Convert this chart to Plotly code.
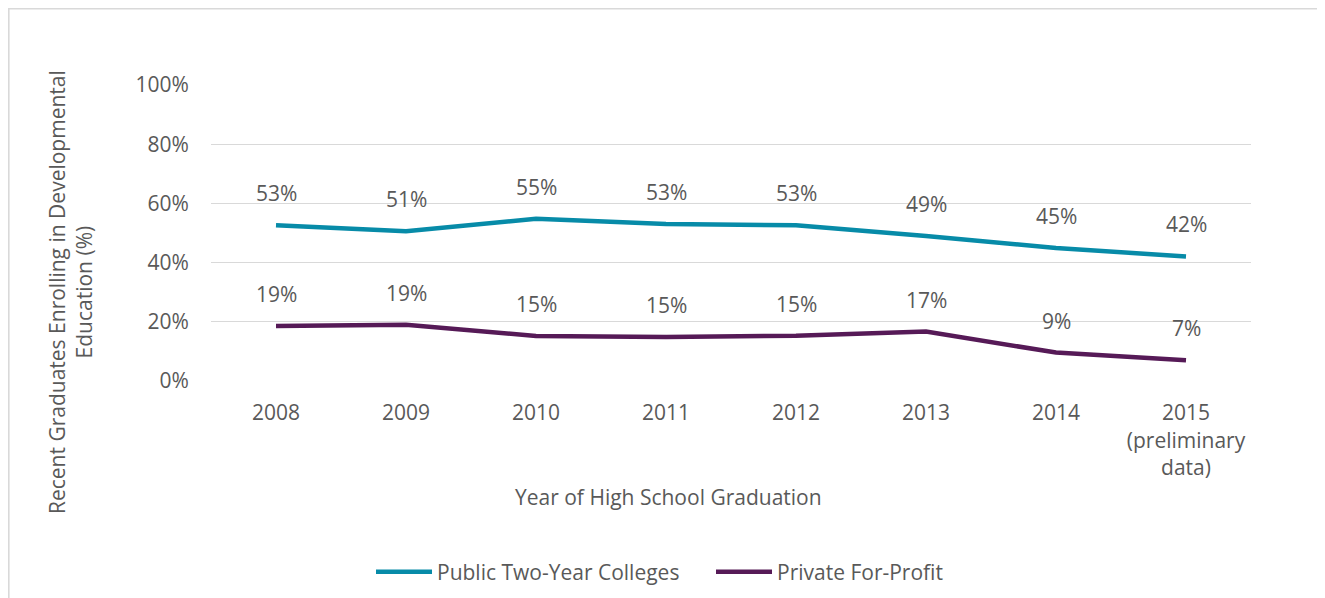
import plotly.graph_objects as go

years = ["2008", "2009", "2010", "2011", "2012", "2013", "2014", "2015"]
year_ticktext = ["2008", "2009", "2010", "2011", "2012", "2013", "2014", "2015<br>(preliminary<br>data)"]
public_two_year = [0.526, 0.506, 0.548, 0.530, 0.526, 0.490, 0.449, 0.421]
private_for_profit = [0.186, 0.190, 0.152, 0.149, 0.153, 0.167, 0.096, 0.070]
public_labels = ["53%", "51%", "55%", "53%", "53%", "49%", "45%", "42%"]
private_labels = ["19%", "19%", "15%", "15%", "15%", "17%", "9%", "7%"]

FONT = "Open Sans"
FS = 21
GRAY = "#595959"
TEAL = "#078BA8"
PURPLE = "#561A57"

# page offset (default body margin) and target plot area in screen pixels
OFF = 8
FIG_W, FIG_H = 1325 - OFF, 598 - OFF
L, R, T, B = 211, 1251, 85, 381
W, H = R - L, B - T


def px(xp):
    return (xp - L) / W


def py(yp):
    return (B - yp) / H


fig = go.Figure()
fig.add_trace(go.Scatter(x=list(range(len(years))), y=public_two_year, mode="lines",
                         name="Public Two-Year Colleges",
                         line=dict(color=TEAL, width=4.5), hoverinfo="skip"))
fig.add_trace(go.Scatter(x=list(range(len(years))), y=private_for_profit, mode="lines",
                         name="Private For-Profit",
                         line=dict(color=PURPLE, width=4.5), hoverinfo="skip"))

annotations = []
for ys, labs in [(public_two_year, public_labels), (private_for_profit, private_labels)]:
    for i, (y, t) in enumerate(zip(ys, labs)):
        annotations.append(dict(x=i, y=y, xref="x", yref="y", text=t, showarrow=False,
                                yshift=32, xanchor="center", yanchor="middle",
                                font=dict(family=FONT, size=FS, color=GRAY)))

annotations.append(dict(xref="paper", yref="paper", x=px(668), y=py(497),
                        xanchor="center", yanchor="middle",
                        text="Year of High School Graduation", showarrow=False,
                        font=dict(family=FONT, size=FS, color=GRAY)))
annotations.append(dict(xref="paper", yref="paper", x=px(70), y=py(292),
                        xanchor="center", yanchor="middle",
                        text="Recent Graduates Enrolling in Developmental<br>Education (%)",
                        textangle=-90, showarrow=False,
                        font=dict(family=FONT, size=FS, color=GRAY)))

fig.update_layout(
    width=FIG_W, height=FIG_H,
    margin=dict(l=L - OFF, r=FIG_W - (R - OFF), t=T - OFF, b=FIG_H - (B - OFF), autoexpand=False),
    paper_bgcolor="white", plot_bgcolor="white",
    font=dict(family=FONT, size=FS, color=GRAY),
    showlegend=True,
    legend=dict(orientation="h", x=px(371), y=py(572),
                xanchor="left", yanchor="middle", font=dict(family=FONT, size=FS, color=GRAY),
                itemwidth=56, entrywidth=269, entrywidthmode="pixels", tracegroupgap=0,
                bgcolor="rgba(0,0,0,0)"),
    annotations=annotations,
    shapes=[dict(type="rect", xref="paper", yref="paper",
                 x0=px(OFF + 0.8), x1=px(1345), y0=py(620), y1=py(OFF + 0.8),
                 line=dict(color="#D9D9D9", width=1.6), layer="below")],
)
fig.update_xaxes(tickmode="array", tickvals=list(range(len(years))), ticktext=year_ticktext,
                 showgrid=False, showline=False, zeroline=False, ticks="outside", ticklen=13,
                 tickcolor="rgba(0,0,0,0)", tickfont=dict(family=FONT, size=FS, color=GRAY),
                 range=[-0.5, 7.5], automargin=False)
fig.update_yaxes(range=[0, 1], dtick=0.2, tickformat=".0%", showgrid=True, gridcolor="#D9D9D9",
                 gridwidth=1.3, zeroline=False, showline=False, ticks="outside", ticklen=17,
                 tickcolor="rgba(0,0,0,0)", tickfont=dict(family=FONT, size=FS, color=GRAY),
                 automargin=False)

fig.write_html("out.html")
